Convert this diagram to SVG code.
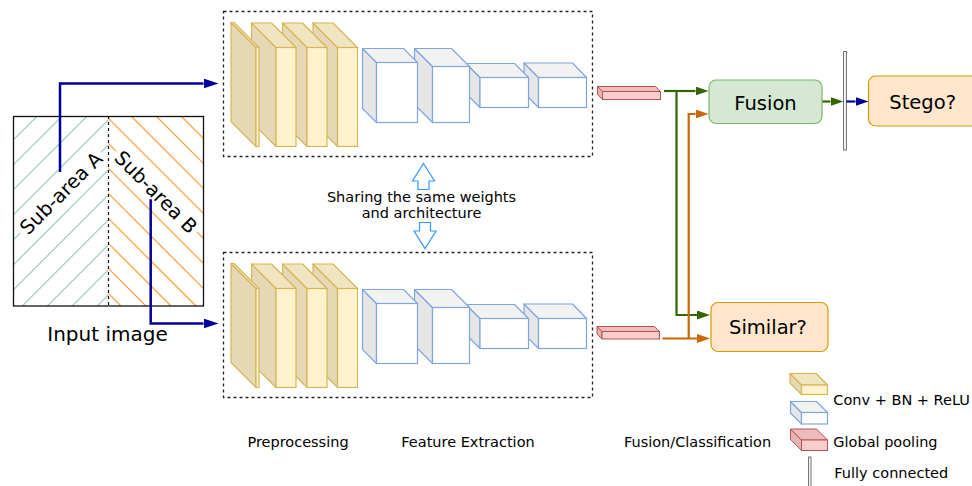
<svg xmlns="http://www.w3.org/2000/svg" width="972" height="486" viewBox="0 0 972 486">
<style>
text{font-family:"DejaVu Sans",Verdana,sans-serif;fill:#000}
.lbl{font-size:14.5px}
.big{font-size:19.5px}
.ys{fill:#e6d8b4;stroke:#d6b656;stroke-width:1.2;stroke-linejoin:round}
.yt{fill:#f1e5c1;stroke:#d6b656;stroke-width:1.2;stroke-linejoin:round}
.yf{fill:#fff2cc;stroke:#d6b656;stroke-width:1.2}
.bs{fill:#e6e6e6;stroke:#7ea6e0;stroke-width:1.2;stroke-linejoin:round}
.bt{fill:#f2f2f2;stroke:#7ea6e0;stroke-width:1.2;stroke-linejoin:round}
.bf{fill:#ffffff;stroke:#7ea6e0;stroke-width:1.2}
.rs{fill:#e6b3b1;stroke:#b85450;stroke-width:1;stroke-linejoin:round}
.rt{fill:#ecbcba;stroke:#b85450;stroke-width:1;stroke-linejoin:round}
.rf{fill:#f8cecc;stroke:#b85450;stroke-width:1}
.dash{fill:none;stroke:#222;stroke-width:1.3;stroke-dasharray:3 3}
.teal{stroke:#9ac7bf;stroke-width:1.1}
.ora{stroke:#ff9933;stroke-width:1.2}
.fc{fill:#f0f0f0;stroke:#777;stroke-width:1}
.cb{fill:none;stroke:#000099;stroke-width:2.5}
.cg{fill:none;stroke:#336600;stroke-width:2.2}
.co{fill:none;stroke:#cc6600;stroke-width:2.2}
.hollow{fill:#fff;stroke:#3399ff;stroke-width:1.2;stroke-linejoin:miter}
</style>
<defs>
<marker id="ab" markerUnits="userSpaceOnUse" markerWidth="15" markerHeight="10" refX="0" refY="5" orient="auto"><path d="M0,0 L15,5 L0,10 z" fill="#000099"/></marker>
<marker id="ab2" markerUnits="userSpaceOnUse" markerWidth="13" markerHeight="9" refX="0" refY="4.5" orient="auto"><path d="M0,0 L13,4.5 L0,9 z" fill="#000099"/></marker>
<marker id="ag" markerUnits="userSpaceOnUse" markerWidth="13" markerHeight="9" refX="0" refY="4.5" orient="auto"><path d="M0,0 L13,4.5 L0,9 z" fill="#336600"/></marker>
<marker id="ao" markerUnits="userSpaceOnUse" markerWidth="13" markerHeight="9" refX="0" refY="4.5" orient="auto"><path d="M0,0 L13,4.5 L0,9 z" fill="#cc6600"/></marker>
<clipPath id="cl"><rect x="13.5" y="116" width="95" height="190"/></clipPath>
<clipPath id="cr"><rect x="108.5" y="116" width="95" height="190"/></clipPath>
<g id="pipe">
<rect class="dash" x="223.5" y="11.5" width="369" height="145"/>
<polygon class="bs" points="538.5,77.5 524,63 524,93 538.5,107.5"/>
<polygon class="bt" points="538.5,77.5 524,63 572.5,63 586.5,77.5"/>
<rect class="bf" x="538.5" y="77.5" width="48" height="30"/>
<polygon class="bs" points="480,77.5 466,63.5 466,93.5 480,107.5"/>
<polygon class="bt" points="480,77.5 466,63.5 514.5,63.5 528.5,77.5"/>
<rect class="bf" x="480" y="77.5" width="48.5" height="30"/>
<polygon class="bs" points="432.5,66.5 414.5,48.5 414.5,104.5 432.5,122.5"/>
<polygon class="bt" points="432.5,66.5 414.5,48.5 451.5,48.5 469.5,66.5"/>
<rect class="bf" x="432.5" y="66.5" width="37" height="56"/>
<polygon class="bs" points="376.5,62.5 362.5,48.5 362.5,108.5 376.5,122.5"/>
<polygon class="bt" points="376.5,62.5 362.5,48.5 403.5,48.5 417.5,62.5"/>
<rect class="bf" x="376.5" y="62.5" width="41" height="60"/>
<polygon class="ys" points="337.5,47.5 313,23 313,122 337.5,146.5"/>
<polygon class="yt" points="337.5,47.5 313,23 333,23 357.5,47.5"/>
<rect class="yf" x="337.5" y="47.5" width="20" height="99"/>
<polygon class="ys" points="307,47.5 282.5,23 282.5,122 307,146.5"/>
<polygon class="yt" points="307,47.5 282.5,23 302.5,23 327,47.5"/>
<rect class="yf" x="307" y="47.5" width="20" height="99"/>
<polygon class="ys" points="276,47.5 251.5,23 251.5,122 276,146.5"/>
<polygon class="yt" points="276,47.5 251.5,23 271.5,23 296,47.5"/>
<rect class="yf" x="276" y="47.5" width="20" height="99"/>
<polygon class="ys" points="256,47.5 231,22.5 231,121.5 256,146.5"/>
<polygon class="yt" points="256,47.5 231,22.5 234,22.5 259,47.5"/>
<rect class="yf" x="256" y="47.5" width="3" height="99"/>
</g>
</defs>

<g id="input-image">
<g clip-path="url(#cl)">
<line class="teal" x1="-156.7" y1="310" x2="43.3" y2="110"/>
<line class="teal" x1="-131.7" y1="310" x2="68.3" y2="110"/>
<line class="teal" x1="-106.7" y1="310" x2="93.3" y2="110"/>
<line class="teal" x1="-81.7" y1="310" x2="118.3" y2="110"/>
<line class="teal" x1="-56.7" y1="310" x2="143.3" y2="110"/>
<line class="teal" x1="-31.7" y1="310" x2="168.3" y2="110"/>
<line class="teal" x1="-6.7" y1="310" x2="193.3" y2="110"/>
<line class="teal" x1="18.3" y1="310" x2="218.3" y2="110"/>
<line class="teal" x1="43.3" y1="310" x2="243.3" y2="110"/>
<line class="teal" x1="68.3" y1="310" x2="268.3" y2="110"/>
<line class="teal" x1="93.3" y1="310" x2="293.3" y2="110"/>
</g>
<g clip-path="url(#cr)">
<line class="ora" x1="100" y1="35" x2="220" y2="155"/>
<line class="ora" x1="100" y1="60" x2="220" y2="180"/>
<line class="ora" x1="100" y1="85" x2="220" y2="205"/>
<line class="ora" x1="100" y1="110" x2="220" y2="230"/>
<line class="ora" x1="100" y1="135" x2="220" y2="255"/>
<line class="ora" x1="100" y1="160" x2="220" y2="280"/>
<line class="ora" x1="100" y1="185" x2="220" y2="305"/>
<line class="ora" x1="100" y1="210" x2="220" y2="330"/>
<line class="ora" x1="100" y1="235" x2="220" y2="355"/>
<line class="ora" x1="100" y1="260" x2="220" y2="380"/>
<line class="ora" x1="100" y1="285" x2="220" y2="405"/>
</g>
<g transform="translate(61,193) rotate(-45)">
<rect x="-57" y="-12" width="114" height="24" fill="#fff"/>
<text class="big" x="0" y="7" text-anchor="middle">Sub-area A</text>
</g>
<g transform="translate(156,192) rotate(45)">
<rect x="-57" y="-12" width="114" height="24" fill="#fff"/>
<text class="big" x="0" y="7" text-anchor="middle">Sub-area B</text>
</g>
<rect x="13.5" y="116.5" width="190" height="189.5" fill="none" stroke="#111" stroke-width="1.3"/>
<line x1="108.5" y1="116" x2="108.5" y2="306" stroke="#111" stroke-width="1.2" stroke-dasharray="3 3"/>
<text x="107.5" y="340.5" text-anchor="middle" style="font-size:20px">Input image</text>
</g>

<g id="branch-top">
<use href="#pipe"/>
</g>
<g id="branch-bottom">
<use href="#pipe" transform="translate(0,241)"/>
</g>

<g id="pool-top">
<polygon class="rs" points="602.5,91.5 597.5,86.5 597.5,94.5 602.5,99.5"/>
<polygon class="rt" points="602.5,91.5 597.5,86.5 655.5,86.5 660.5,91.5"/>
<rect class="rf" x="602.5" y="91.5" width="58" height="8"/>
</g>
<g id="pool-bottom">
<polygon class="rs" points="602,331.5 597,326.5 597,334 602,339"/>
<polygon class="rt" points="602,331.5 597,326.5 654.5,326.5 659.5,331.5"/>
<rect class="rf" x="602" y="331.5" width="57.5" height="7.5"/>
</g>

<g id="sharing">
<polygon class="hollow" points="423.5,163.5 434.5,181 429,181 429,189.5 418,189.5 418,181 412.5,181"/>
<polygon class="hollow" points="419.5,222.5 430.5,222.5 430.5,231 436,231 425,248.5 414,231 419.5,231"/>
<text class="lbl" x="421.5" y="201.5" text-anchor="middle">Sharing the same weights</text>
<text class="lbl" x="421.5" y="218.3" text-anchor="middle">and architecture</text>
</g>

<g id="fusion">
<rect x="709" y="80" width="113" height="43.5" rx="7" fill="#d5e8d4" stroke="#82b366" stroke-width="1.2"/>
<text class="big" x="765.5" y="110" text-anchor="middle">Fusion</text>
</g>
<g id="fc">
<rect class="fc" x="843.5" y="51.5" width="3" height="98.5"/>
</g>
<g id="stego">
<rect x="868.5" y="76" width="110" height="50" rx="7" fill="#ffe6cc" stroke="#d79b00" stroke-width="1.2"/>
<text class="big" x="922.7" y="108.8" text-anchor="middle">Stego?</text>
</g>
<g id="similar">
<rect x="711" y="302.5" width="117" height="49" rx="7" fill="#ffe6cc" stroke="#d79b00" stroke-width="1.2"/>
<text class="big" x="768" y="333.8" text-anchor="middle">Similar?</text>
</g>

<g id="connectors">
<path class="cb" d="M60,172 V83.5 H203.5" marker-end="url(#ab)"/>
<path class="cb" d="M150.7,199.3 V323.5 H203.5" marker-end="url(#ab)"/>
<path class="cg" d="M664,91 H695.5" marker-end="url(#ag)"/>
<path class="cg" d="M676.5,91 V315 H697" marker-end="url(#ag)"/>
<path class="co" d="M662.5,338.5 H697" marker-end="url(#ao)"/>
<path class="co" d="M688.7,338.5 V114 H695.5" marker-end="url(#ao)"/>
<path class="cg" d="M822.5,101.5 H830.5" marker-end="url(#ag)"/>
<path class="cb" d="M846.5,101.5 H855.5" style="stroke-width:2.2" marker-end="url(#ab2)"/>
</g>

<g id="section-labels">
<text class="lbl" x="298" y="446.5" text-anchor="middle">Preprocessing</text>
<text class="lbl" x="468" y="446.5" text-anchor="middle">Feature Extraction</text>
<text class="lbl" x="697.5" y="446.5" text-anchor="middle">Fusion/Classification</text>
</g>

<g id="legend">
<polygon class="ys" points="801.5,385 790,373.5 790,383 801.5,394.5"/>
<polygon class="yt" points="801.5,385 790,373.5 816,373.5 827.5,385"/>
<rect class="yf" x="801.5" y="385" width="26" height="9.5"/>
<polygon class="bs" points="801.5,412.5 790.5,401.5 790.5,413 801.5,424"/>
<polygon class="bt" points="801.5,412.5 790.5,401.5 816.5,401.5 827.5,412.5"/>
<rect class="bf" x="801.5" y="412.5" width="26" height="11.5"/>
<polygon class="rs" points="801.5,440 790.5,429 790.5,439.5 801.5,450.5"/>
<polygon class="rt" points="801.5,440 790.5,429 816.5,429 827.5,440"/>
<rect class="rf" x="801.5" y="440" width="26" height="10.5"/>
<rect class="fc" x="808.5" y="457" width="2.5" height="35"/>
<text class="lbl" x="833.3" y="405">Conv + BN + ReLU</text>
<text class="lbl" x="833.3" y="447.3">Global pooling</text>
<text class="lbl" x="834.3" y="478.3">Fully connected</text>
</g>
</svg>
